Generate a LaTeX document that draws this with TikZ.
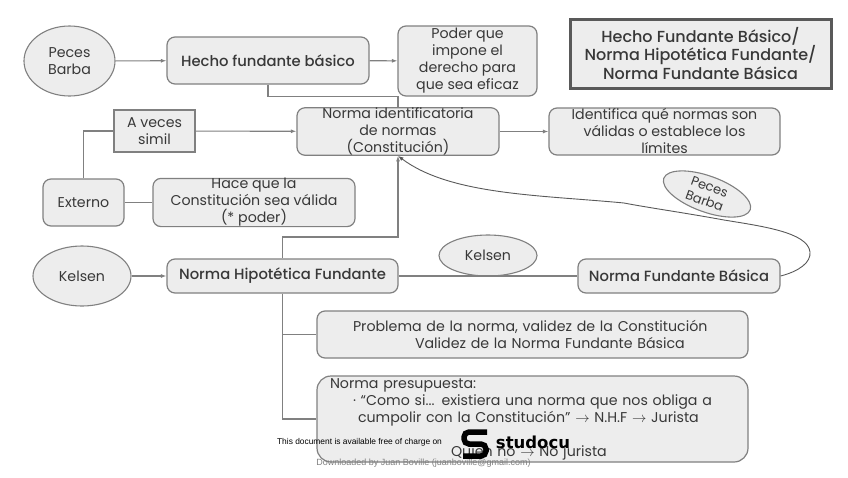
\documentclass[tikz,border=0pt]{standalone}
\usepackage{fontspec}
\setmainfont{Poppins}[BoldFont={Poppins Medium}]
\newfontfamily\markfont{Liberation Sans}
\newfontfamily\logofont{DejaVu Sans}
\usetikzlibrary{arrows.meta,positioning,shapes.geometric}

\begin{document}
\begin{tikzpicture}[
  x=1pt, y=-1pt,
  font=\fontsize{14.2}{17}\selectfont,
  >={Latex[length=5.5pt,width=4pt]},
  textgray/.style={text=black!78},
  concept/.style={rounded corners=8pt, draw=black!50, fill=black!7, line width=1.2pt, inner sep=0pt, align=center, textgray},
  person/.style={ellipse, draw=black!50, fill=black!7, line width=1.1pt, inner sep=0pt, align=center, textgray},
  strong/.style={font=\fontsize{14.8}{17}\selectfont\bfseries},
  link/.style={draw=black!50, line width=1.1pt},
  linkto/.style={link, ->},
  curved/.style={draw=black!65, line width=.9pt, ->}
]
\useasboundingbox (0,0) rectangle (848,477);

% Top row.
\node[person, minimum width=91pt, minimum height=70pt] (pecesa) at (69.5,61) {Peces\\Barba};
\node[concept, strong, minimum width=202pt, minimum height=47pt] (hecho) at (268,60.5) {Hecho fundante básico};
\node[concept, minimum width=139pt, minimum height=70pt] (poder) at (467.5,61) {Poder que\\impone el\\derecho para\\que sea eficaz};
\node[draw=black!65, fill=black!7, line width=3pt, minimum width=261pt, minimum height=69pt, inner sep=0pt, align=center, textgray, font=\fontsize{16}{18.5}\selectfont\bfseries] (titulo) at (700.5,53.5) {Hecho Fundante Básico/\\Norma Hipotética Fundante/\\Norma Fundante Básica};

% Middle rows.
\node[draw=black!50, fill=black!7, line width=1.2pt, minimum width=81pt, minimum height=42pt, inner sep=0pt, align=center, textgray] (aveces) at (154.5,131) {A veces\\simil};
\node[concept, minimum width=202pt, minimum height=47pt] (identif) at (398,131.5) {Norma identificatoria\\de normas\\(Constitución)};
\node[concept, minimum width=231pt, minimum height=47pt] (limites) at (664.5,131.5) {Identifica qué normas son\\válidas o establece los\\límites};
\node[concept, minimum width=81pt, minimum height=47pt] (externo) at (83.5,202.5) {Externo};
\node[concept, minimum width=202pt, minimum height=47pt] (hace) at (254,202.5) {Hace que la\\Constitución sea válida\\(* poder)};
\node[person, rotate=-20, minimum width=92pt, minimum height=36pt, font=\fontsize{13}{15}\selectfont] (pecesb) at (707,194) {Peces\\Barba};

% Hypothetical norm row.
\node[person, minimum width=98pt, minimum height=60pt] (kelsena) at (82,276) {Kelsen};
\node[concept, strong, minimum width=231pt, minimum height=34pt] (hipotetica) at (282.5,276) {Norma Hipotética Fundante};
\node[person, minimum width=98pt, minimum height=41pt] (kelsenb) at (488,255.5) {Kelsen};
\node[concept, strong, minimum width=202pt, minimum height=34pt] (fundante) at (679,276) {Norma Fundante Básica};

% Lower boxes.
\node[concept, minimum width=431pt, minimum height=47pt, text width=405pt, align=left] (problema) at (532.5,334.5)
  {\hspace*{23pt}Problema de la norma, validez de la Constitución\\\hspace*{85pt}Validez de la Norma Fundante Básica};
\node[concept, rounded corners=14pt, minimum width=431pt, minimum height=86pt, text width=405pt, align=left] (presupuesta) at (532.5,419)
  {Norma presupuesta:\\\hspace*{23pt}· “Como si... existiera una norma que nos obliga a\\\hspace*{28pt}cumpolir con la Constitución” $\rightarrow$ N.H.F $\rightarrow$ Jurista\\\mbox{}\\\hspace*{121pt}Quien no $\rightarrow$ No jurista};

% Connectors.
\coordinate (hechobend) at (398,96.5);
\coordinate (hipbend) at (398,237);
\draw[linkto] (pecesa) -- (hecho);
\draw[linkto] (hecho) -- (poder);
\draw[link] (hecho.south) |- (hechobend) -- (identif.north);
\draw[linkto] (aveces) -- (identif);
\draw[linkto] (identif) -- (limites);
\draw[link] (externo.north) |- (aveces.west);
\draw[link] (externo) -- (hace);
\draw[linkto] (hipotetica.north) |- (hipbend) -- (identif.south);
\draw[linkto] (kelsena) -- (hipotetica);
\draw[link] (hipotetica) -- (fundante);
\draw[link] (hipotetica.south) |- (problema.west);
\draw[link] (hipotetica.south) |- (presupuesta.west);
\draw[curved] (fundante.east) .. controls (800,271) and (811,262) .. (810,252)
  .. controls (808,232) and (760,226) .. (724,220)
  .. controls (680,212) and (650,208) .. (624,203)
  .. controls (540,195) and (450,195) .. (identif.south);

% Download notice.
\node[font=\markfont\fontsize{8.4}{9}\selectfont, text=black] (aviso) at (359.5,442) {This document is available free of charge on};
\node[font=\markfont\fontsize{9}{10}\selectfont, text=black!50] (descarga) at (423.5,463) {Downloaded by Juan Boville (juanboville@gmail.com)};
\node[font=\logofont\fontsize{16.5}{18}\selectfont\bfseries, text=black, inner sep=0pt] (marca) at (533,442) {studocu};
\draw[black, line width=5.5pt, rounded corners=5pt] (487,432) -- (464,432) -- (464,444) -- (486,444) -- (486,456) -- (463,456);
\end{tikzpicture}
\end{document}
